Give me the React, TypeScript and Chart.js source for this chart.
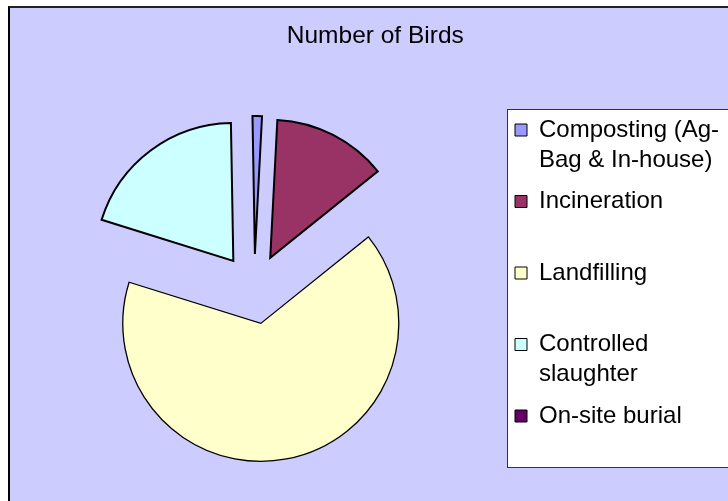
import React, { useEffect, useRef } from "react";
import { Chart, ArcElement, PieController, Legend, Title, Tooltip, layouts } from "chart.js";

Chart.register(ArcElement, PieController, Legend, Title, Tooltip);

// ---- data ----
const chartTitle = "Number of Birds";
const categories = [
  "Composting (Ag-\nBag & In-house)",
  "Incineration",
  "Landfilling",
  "Controlled\nslaughter",
  "On-site burial",
];
const values = [1.1, 13.4, 65.6, 19.9, 0];
const colors = ["#9999FF", "#993366", "#FFFFCC", "#CCFFFF", "#660066"];

// ---- style ----
const FONT = "'Liberation Sans', Arial, Helvetica, sans-serif";
const CANVAS_W = 760;
const CANVAS_H = 501;
const EXPLODE = 35;
const LEGEND_SIZE = 24;
const LEGEND_PAD = 11.5;
const BOX_W = 12;
const BOX_H = 12;
const CHART_RIGHT = 503.5;
const PAD_LEFT = 5.1;
const PAD_RIGHT = 14.5;

const legendLines = categories.map((c) => {
  const lines = c.split("\n");
  while (lines.length < 2) lines.push("");
  return lines;
});

function legendWidth(): number {
  const c = document.createElement("canvas").getContext("2d")!;
  c.font = `normal ${LEGEND_SIZE}px ${FONT}`;
  let max = 0;
  legendLines.forEach((lines) => {
    const longest = lines.reduce((a, b) => (a.length > b.length ? a : b));
    max = Math.max(max, c.measureText(longest).width);
  });
  return LEGEND_PAD + BOX_W + LEGEND_SIZE / 2 + max + 10;
}

const explodePlugin = {
  id: "explode",
  afterDatasetUpdate(chart: any, args: any) {
    const meta = chart.getDatasetMeta(args.index);
    meta.data.forEach((el: any) => {
      el.draw = function (ctx: CanvasRenderingContext2D) {
        const mid = (this.startAngle + this.endAngle) / 2;
        ctx.save();
        ctx.translate(Math.cos(mid) * EXPLODE, Math.sin(mid) * EXPLODE);
        ArcElement.prototype.draw.call(this, ctx);
        ctx.restore();
      };
    });
  },
};

// empty box to the right of the legend, so the full-width title keeps its own centre
function makeSpacerPlugin(width: number) {
  return {
    id: "rightSpacer",
    beforeInit(chart: any) {
      const box: any = {
        position: "right",
        weight: 1500,
        fullSize: false,
        options: { display: false },
        width: 0,
        height: 0,
        isHorizontal: () => false,
        update(_maxW: number, maxH: number) {
          box.width = width;
          box.height = maxH;
        },
        draw() {},
      };
      (layouts as any).addBox(chart, box);
    },
  };
}

const legendBoxPlugin = {
  id: "legendBox",
  beforeDraw(chart: any) {
    const hb = chart.legend && chart.legend.legendHitBoxes;
    if (!hb || !hb.length) return;
    const ctx = chart.ctx;
    const first = hb[0];
    const last = hb[hb.length - 1];
    const x = Math.round(first.left - 8) + 0.5;
    const y = Math.round(first.top - 9) + 0.5;
    const bottom = last.top + last.height + 3.5;
    ctx.save();
    ctx.fillStyle = "#FFFFFF";
    ctx.fillRect(x, y, chart.width - x + 20, bottom - y);
    ctx.strokeStyle = "#333333";
    ctx.lineWidth = 1;
    ctx.strokeRect(x, y, chart.width - x + 20, bottom - y);
    ctx.restore();
  },
};

export default function App() {
  const ref = useRef<HTMLCanvasElement>(null);

  useEffect(() => {
    if (!ref.current) return;
    const lw = legendWidth();
    const spacer = Math.max(CANVAS_W - PAD_RIGHT - CHART_RIGHT - lw, 0);
    const chart = new Chart(ref.current, {
      type: "pie",
      data: {
        labels: legendLines as any,
        datasets: [
          {
            data: values,
            backgroundColor: colors,
            borderColor: "#000000",
            borderWidth: [2, 2, 1.3, 2, 2],
            borderJoinStyle: "miter",
            radius: 138,
          } as any,
        ],
      },
      options: {
        animation: false,
        responsive: false,
        events: [],
        rotation: -1,
        layout: { padding: { left: PAD_LEFT, right: PAD_RIGHT, top: 0, bottom: 25.5 } },
        plugins: {
          title: {
            display: true,
            text: chartTitle,
            color: "#000000",
            font: { family: FONT, size: 24.5, weight: "normal", lineHeight: 1.2 },
            padding: { top: 22, bottom: 51.1 },
          },
          legend: {
            position: "right",
            align: "end",
            labels: {
              color: "#000000",
              font: { family: FONT, size: LEGEND_SIZE, lineHeight: 1.25 },
              boxWidth: BOX_W,
              boxHeight: BOX_H,
              padding: LEGEND_PAD,
              generateLabels: (ch: any) => {
                const base = (Chart as any).overrides.pie.plugins.legend.labels.generateLabels(ch);
                return base.map((it: any) => ({ ...it, lineWidth: 1, strokeStyle: "#000000", hidden: false }));
              },
            },
          },
          tooltip: { enabled: false },
        },
      } as any,
      plugins: [makeSpacerPlugin(spacer), explodePlugin, legendBoxPlugin],
    });
    return () => chart.destroy();
  }, []);

  return (
    <div
      style={{
        position: "fixed",
        left: 0,
        top: 0,
        width: 728,
        height: 501,
        overflow: "hidden",
        background: "#FFFFFF",
      }}
    >
      <div
        style={{
          position: "absolute",
          left: 8,
          top: 6,
          width: 800,
          height: 600,
          background: "#CCCCFF",
          borderLeft: "2px solid #000000",
          borderTop: "2px solid #222222",
          boxSizing: "border-box",
        }}
      />
      <canvas
        ref={ref}
        width={CANVAS_W}
        height={CANVAS_H}
        style={{ position: "absolute", left: 0, top: 0 }}
      />
    </div>
  );
}
